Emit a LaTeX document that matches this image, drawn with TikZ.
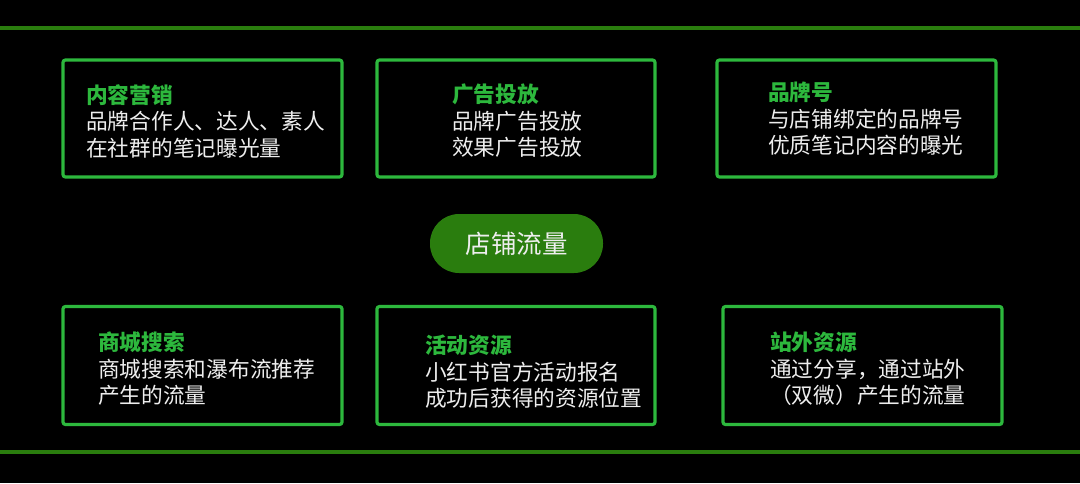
\documentclass[tikz,border=0pt]{standalone}
\usepackage{fontspec}
\newfontfamily\cjk{Noto Sans CJK SC}
\definecolor{vertclair}{HTML}{2DB83D}
\definecolor{vertfonce}{HTML}{2A7D0E}
\definecolor{blanc}{HTML}{EEEEEE}
\begin{document}
\begin{tikzpicture}[x=1pt,y=-1pt]
	% Styles (MODIFIABLES)
	\tikzstyle{boite}=[draw=vertclair,line width=3.2pt,rounded corners=2.5pt,inner sep=0pt]
	\tikzstyle{bouton}=[fill=vertfonce,rounded corners=29pt,inner sep=0pt,text=blanc,font=\cjk\fontsize{25.5}{30}\selectfont]
	\tikzstyle{texte}=[anchor=west,align=left,inner sep=0pt,text=blanc,font=\cjk\fontsize{21.7}{26.5}\selectfont]
	\tikzstyle{ligne}=[vertfonce,line width=4.5pt]
	\def\Titre#1{\textcolor{vertclair}{\bfseries #1}}
	% Dimensions (MODIFIABLES)
	\def\LargeurBoite{279}
	\def\NiveauA{118.5}
	\def\NiveauB{365.5}
	% Fond
	\fill[black] (0,0) rectangle (1080,483);
	\useasboundingbox (0,0) rectangle (1080,483);
	\coordinate (hautG) at (0,28);
	\coordinate (hautD) at (1080,28);
	\coordinate (basG) at (0,452);
	\coordinate (basD) at (1080,452);
	\draw[ligne] (hautG)--(hautD);
	\draw[ligne] (basG)--(basD);
	% Boites
	\node[boite,minimum width=\LargeurBoite,minimum height=117] (B1) at (202.5,\NiveauA) {};
	\node[boite,minimum width=278,minimum height=117] (B2) at (516,\NiveauA) {};
	\node[boite,minimum width=\LargeurBoite,minimum height=117] (B3) at (856.5,\NiveauA) {};
	\node[boite,minimum width=\LargeurBoite,minimum height=118] (B4) at (202.5,\NiveauB) {};
	\node[boite,minimum width=278,minimum height=118] (B5) at (516,\NiveauB) {};
	\node[boite,minimum width=\LargeurBoite,minimum height=118] (B6) at (862.5,\NiveauB) {};
	%
	\node[bouton,minimum width=173,minimum height=59] (flux) at (516.5,243.5) {店铺流量};
	% Textes
	\node[texte] (T1) at (86,121) {\Titre{内容营销}\\品牌合作人、达人、素人\\在社群的笔记曝光量};
	\node[texte] (T2) at (452,121) {\Titre{广告投放}\\品牌广告投放\\效果广告投放};
	\node[texte] (T3) at (768,119) {\Titre{品牌号}\\与店铺绑定的品牌号\\优质笔记内容的曝光};
	\node[texte] (T4) at (98,369) {\Titre{商城搜索}\\商城搜索和瀑布流推荐\\产生的流量};
	\node[texte] (T5) at (425,372) {\Titre{活动资源}\\小红书官方活动报名\\成功后获得的资源位置};
	\node[texte] (T6) at (770,369) {\Titre{站外资源}\\通过分享，通过站外\\（双微）产生的流量};
\end{tikzpicture}
\end{document}
